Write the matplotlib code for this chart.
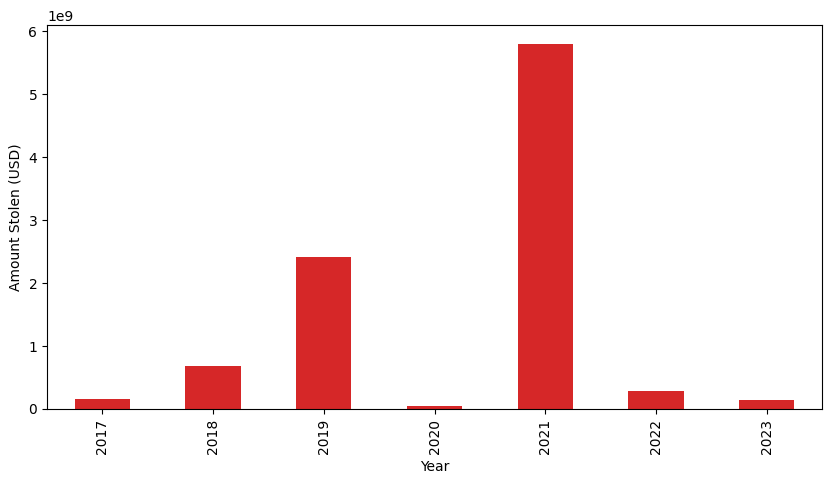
import matplotlib
matplotlib.use("Agg")
import matplotlib.pyplot as plt
import numpy as np

# Amount stolen per year (USD)
years = ["2017", "2018", "2019", "2020", "2021", "2022", "2023"]
amount_stolen = [0.163e9, 0.69e9, 2.42e9, 0.05e9, 5.80e9, 0.29e9, 0.14e9]

fig = plt.figure(figsize=(8.31, 4.83), dpi=100)
ax = fig.add_axes([47 / 831, 1 - 409 / 483, (822 - 47) / 831, (409 - 25) / 483])

x = np.arange(len(years))
ax.bar(x, amount_stolen, width=0.5, color="#d62728")
ax.set_xlim(-0.5, len(years) - 0.5)
ax.set_ylim(0, 6.1e9)
ax.set_xticks(x)
ax.set_xticklabels(years, rotation=90)
ax.set_xlabel("Year")
ax.set_ylabel("Amount Stolen (USD)")

fig.savefig("out.png", dpi=100)
